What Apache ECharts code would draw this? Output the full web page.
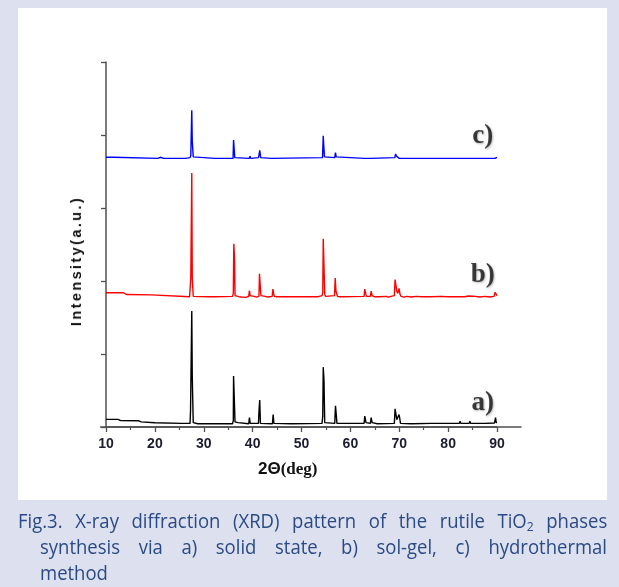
<!DOCTYPE html>
<html>
<head>
<meta charset="utf-8">
<script src="https://cdn.jsdelivr.net/npm/echarts@6/dist/echarts.min.js"></script>
<style>
  html, body { margin:0; padding:0; width:619px; height:587px; overflow:hidden; background:#dde0ee; }
  #panel { position:absolute; left:18px; top:8px; width:589px; height:492px; background:#ffffff; }
  #chart { position:absolute; left:0; top:0; width:619px; height:587px; }
  #ytitle { position:absolute; left:76px; top:261px; transform:translate(-50%,-50%) rotate(-90deg);
            font-family:'Liberation Sans', Arial, sans-serif; font-weight:bold; font-size:14.5px;
            letter-spacing:2.4px; color:#111; white-space:nowrap; }
  .cap { position:absolute; font-family:'Open Sans','Noto Sans',sans-serif; font-size:20px; color:#2a4a86;
         white-space:nowrap; line-height:22px; transform-origin:0 50%; transform:scaleX(0.925); }
  .just { text-align:justify; text-align-last:justify; }
  sub { font-size:13px; vertical-align:-3px; line-height:0; }
</style>
</head>
<body>
<div id="panel"></div>
<div id="chart"></div>
<div id="ytitle"></div>
<div id="cap1" class="cap just" style="left:18px; top:510px; width:637px;"></div>
<div id="cap2" class="cap just" style="left:40px; top:536px; width:613px;"></div>
<div id="cap3" class="cap" style="left:40px; top:562px;"></div>
<script>
// ---- Data (2θ in degrees, intensity in arbitrary stacked units) ----
const xTickLabels = ['10','20','30','40','50','60','70','80','90'];
const sampleNames = ['a)', 'b)', 'c)'];
const sampleColors = ['#000000', '#ff0000', '#0000ff'];
const labelPositions = [[87.1, 0.33], [87.1, 2.08], [87.1, 3.99]];
const yAxisTitle = 'Intensity(a.u.)';
const captionLines = [
  'Fig.3. X-ray diffraction (XRD) pattern of the rutile TiO<sub>2</sub> phases',
  'synthesis via a) solid state, b) sol-gel, c) hydrothermal',
  'method'
];

// a) solid state (black)
const seriesA = [
  [10,0.105],[12.5,0.105],[12.6,0.09],[13.0,0.088],[13.1,0.098],[13.2,0.088],[16.6,0.086],[16.7,0.066],
  [17.2,0.07],[17.3,0.064],[20,0.058],[25.4,0.05],[25.5,0.06],[25.6,0.05],[27.2,0.05],[27.3,0.23],
  [27.5,0.23],[27.55,1.59],[27.65,0.69],[27.8,0.69],[27.85,0.06],[28.2,0.045],[28.8,0.045],[28.9,0.06],
  [29.0,0.045],[29.8,0.045],[29.9,0.06],[30.0,0.045],[32.2,0.045],[32.3,0.06],[32.4,0.045],
  [35.9,0.045],[36.05,0.09],[36.1,0.70],[36.3,0.69],[36.4,0.07],[36.6,0.05],[37.0,0.06],[37.1,0.045],
  [39.2,0.045],[39.35,0.13],[39.5,0.05],[41.2,0.05],[41.3,0.22],[41.45,0.37],[41.6,0.05],
  [44.05,0.045],[44.2,0.17],[44.35,0.05],[48.0,0.045],[54.2,0.05],[54.35,0.15],[54.45,0.82],
  [54.6,0.64],[54.75,0.06],[56.8,0.05],[56.95,0.29],[57.1,0.18],[57.25,0.05],[62.8,0.05],[62.95,0.15],
  [63.2,0.06],[64.1,0.05],[64.25,0.13],[64.45,0.06],[65.5,0.045],[65.6,0.055],[65.7,0.045],
  [69.0,0.05],[69.15,0.25],[69.3,0.27],[69.5,0.10],[69.7,0.10],[69.95,0.17],[70.1,0.12],[70.25,0.05],
  [72.5,0.045],[72.6,0.06],[72.7,0.045],[76.6,0.05],[76.8,0.065],[77.0,0.05],[79.9,0.05],[80.0,0.06],
  [80.1,0.05],[82.3,0.05],[82.45,0.08],[82.6,0.05],[84.3,0.05],[84.45,0.08],[84.6,0.05],[87.5,0.05],
  [87.6,0.065],[87.7,0.05],[89.5,0.055],[89.7,0.13],[89.85,0.06],[90,0.06]
];

// b) sol-gel (red)
const seriesB = [
  [10,1.84],[13.5,1.84],[13.6,1.815],[14.2,1.815],[14.3,1.80],[14.4,1.815],[19.3,1.81],[19.4,1.785],
  [19.6,1.795],[19.7,1.785],[27.1,1.785],[27.25,1.79],[27.35,2.04],[27.5,2.04],[27.55,3.48],
  [27.65,2.04],[27.8,2.04],[27.85,1.79],[28.2,1.785],[30.9,1.785],[31.0,1.775],[31.1,1.785],
  [32.3,1.785],[32.4,1.775],[32.5,1.785],[35.9,1.79],[36.05,1.83],[36.15,2.51],[36.3,2.31],[36.4,1.80],
  [36.6,1.79],[37.2,1.785],[37.5,1.795],[37.8,1.78],[38.2,1.79],[38.6,1.775],[39.0,1.79],[39.2,1.79],
  [39.35,1.87],[39.5,1.80],[39.9,1.78],[40.3,1.79],[40.8,1.78],[41.3,1.79],[41.4,2.10],[41.6,2.10],
  [41.7,1.80],[42.1,1.785],[42.6,1.79],[43.1,1.78],[44.0,1.79],[44.15,1.89],[44.3,1.83],[44.45,1.79],
  [44.9,1.785],[45.3,1.775],[45.6,1.785],[48.4,1.785],[48.5,1.78],[48.6,1.785],[52.0,1.785],
  [52.3,1.795],[52.6,1.785],[53.4,1.785],[53.6,1.795],[54.2,1.80],[54.35,1.84],[54.45,2.58],[54.6,2.20],
  [54.75,1.82],[54.9,1.79],[56.75,1.80],[56.9,2.04],[57.05,1.86],[57.2,1.83],[57.35,1.79],[57.8,1.785],
  [58.1,1.795],[58.4,1.785],[62.8,1.79],[62.95,1.89],[63.15,1.82],[63.3,1.79],[64.1,1.79],[64.25,1.86],
  [64.45,1.80],[64.9,1.785],[65.3,1.78],[66.0,1.785],[67.3,1.79],[67.8,1.78],[68.3,1.79],[69.0,1.80],
  [69.15,2.02],[69.35,2.01],[69.5,1.86],[69.7,1.83],[69.95,1.90],[70.15,1.82],[70.35,1.79],[71.0,1.78],
  [71.5,1.79],[72.5,1.78],[73.5,1.79],[74.6,1.785],[74.8,1.80],[75.0,1.785],[76.5,1.785],[76.7,1.80],
  [76.9,1.785],[78.5,1.79],[80.0,1.785],[80.2,1.795],[80.4,1.785],[82.0,1.785],[82.2,1.805],[82.4,1.79],
  [83.3,1.785],[84.2,1.795],[84.5,1.785],[85.5,1.79],[86.5,1.78],[87.5,1.79],[88.5,1.78],[89.4,1.79],
  [89.6,1.845],[89.8,1.83],[90,1.80]
];

// c) hydrothermal (blue)
const seriesC = [
  [10,3.695],[11.6,3.695],[11.7,3.68],[20.6,3.68],[20.7,3.695],[20.8,3.68],[21.0,3.68],[21.1,3.695],
  [21.2,3.68],[21.8,3.68],[21.9,3.695],[22.0,3.68],[25.4,3.68],[25.5,3.695],[25.6,3.68],[26.3,3.68],
  [26.4,3.70],[26.5,3.68],[27.2,3.69],[27.35,3.72],[27.5,3.74],[27.55,4.34],[27.65,3.92],[27.75,3.90],
  [27.85,3.70],[28.1,3.68],[32.2,3.68],[32.3,3.695],[32.4,3.68],[36.0,3.68],[36.1,3.93],[36.25,3.92],
  [36.35,3.69],[36.6,3.68],[39.3,3.68],[39.45,3.71],[39.6,3.68],[41.2,3.69],[41.35,3.74],[41.45,3.79],
  [41.55,3.78],[41.65,3.69],[43.9,3.68],[44.05,3.70],[44.2,3.68],[54.3,3.69],[54.45,3.99],[54.55,3.86],
  [54.7,3.70],[56.8,3.69],[56.95,3.76],[57.1,3.70],[57.3,3.68],[62.9,3.68],[63.05,3.70],[63.2,3.68],
  [64.2,3.68],[64.35,3.70],[64.5,3.68],[69.1,3.69],[69.25,3.74],[69.45,3.71],[69.6,3.72],[69.75,3.69],
  [70.0,3.68],[74.2,3.68],[74.3,3.69],[74.4,3.68],[77.9,3.68],[78.0,3.69],[78.1,3.68],[80.4,3.68],
  [80.5,3.69],[80.6,3.68],[82.4,3.68],[82.5,3.69],[82.6,3.68],[89.6,3.68],[89.75,3.70],[90,3.695]
];

document.getElementById('ytitle').textContent = yAxisTitle;
document.getElementById('cap1').innerHTML = captionLines[0];
document.getElementById('cap2').innerHTML = captionLines[1];
document.getElementById('cap3').innerHTML = captionLines[2];

const chart = echarts.init(document.getElementById('chart'), null, { renderer: 'canvas' });
const axisColor = '#505050';
const lineData = [seriesA, seriesB, seriesC];

const series = lineData.map((d, i) => ({
  type: 'line', xAxisIndex: 0, yAxisIndex: 0, data: d, showSymbol: false, symbol: 'none',
  lineStyle: { color: sampleColors[i], width: 1.4 }, z: 5 - i, silent: true
}));
series.push({
  type: 'scatter', xAxisIndex: 0, yAxisIndex: 0, symbolSize: 0, silent: true,
  data: labelPositions.map((p, i) => ({ value: p, name: sampleNames[i] })),
  label: {
    show: true, position: 'inside', formatter: p => p.name,
    fontFamily: "'Liberation Serif','Times New Roman',serif", fontWeight: 'bold', fontSize: 27,
    color: '#111', textShadowColor: 'rgba(0,0,0,0.35)', textShadowBlur: 2, textShadowOffsetX: 1, textShadowOffsetY: 1
  }
});

chart.setOption({
  animation: false,
  backgroundColor: 'transparent',
  grid: [
    { left: 106, right: 122, top: 62, bottom: 160 },
    { left: 100.6, right: 98, top: 62, bottom: 160 }
  ],
  xAxis: [
    {
      type: 'value', gridIndex: 0, min: 10, max: 90, interval: 10,
      axisLine: { show: true, lineStyle: { color: axisColor, width: 1.5 } },
      axisTick: { show: true, length: 5, lineStyle: { color: axisColor, width: 1.3 } },
      minorTick: { show: true, splitNumber: 2, length: 3, lineStyle: { color: axisColor, width: 1.2 } },
      splitLine: { show: false },
      axisLabel: {
        margin: 10, color: '#1c1c30', fontWeight: 'bold', fontSize: 14,
        fontFamily: "'Liberation Sans Narrow','Liberation Sans',Arial,sans-serif",
        formatter: v => xTickLabels[Math.round((v - 10) / 10)] || ''
      }
    },
    {
      type: 'value', gridIndex: 1, min: 8.9, max: 94.9,
      axisLine: { show: true, lineStyle: { color: axisColor, width: 1.5 } },
      axisTick: { show: false }, axisLabel: { show: false }, splitLine: { show: false }
    }
  ],
  yAxis: [
    {
      type: 'value', gridIndex: 0, min: 0, max: 5, interval: 1,
      axisLine: { show: true, onZero: false, lineStyle: { color: axisColor, width: 1.5 } },
      axisTick: { show: true, length: 5, lineStyle: { color: axisColor, width: 1.3 } },
      axisLabel: { show: false }, splitLine: { show: false }
    },
    {
      type: 'value', gridIndex: 1, min: 0, max: 5, show: false
    }
  ],
  graphic: [{
    type: 'text', left: 258, top: 461, silent: true,
    style: {
      text: '{a|2Θ}{b|(deg)}',
      rich: {
        a: { fontFamily: "'Liberation Sans',Arial,sans-serif", fontWeight: 'bold', fontSize: 17, fill: '#111' },
        b: { fontFamily: "'Liberation Serif','Times New Roman',serif", fontWeight: 'bold', fontSize: 17, fill: '#111' }
      }
    }
  }],
  series: series
});
</script>
</body>
</html>
